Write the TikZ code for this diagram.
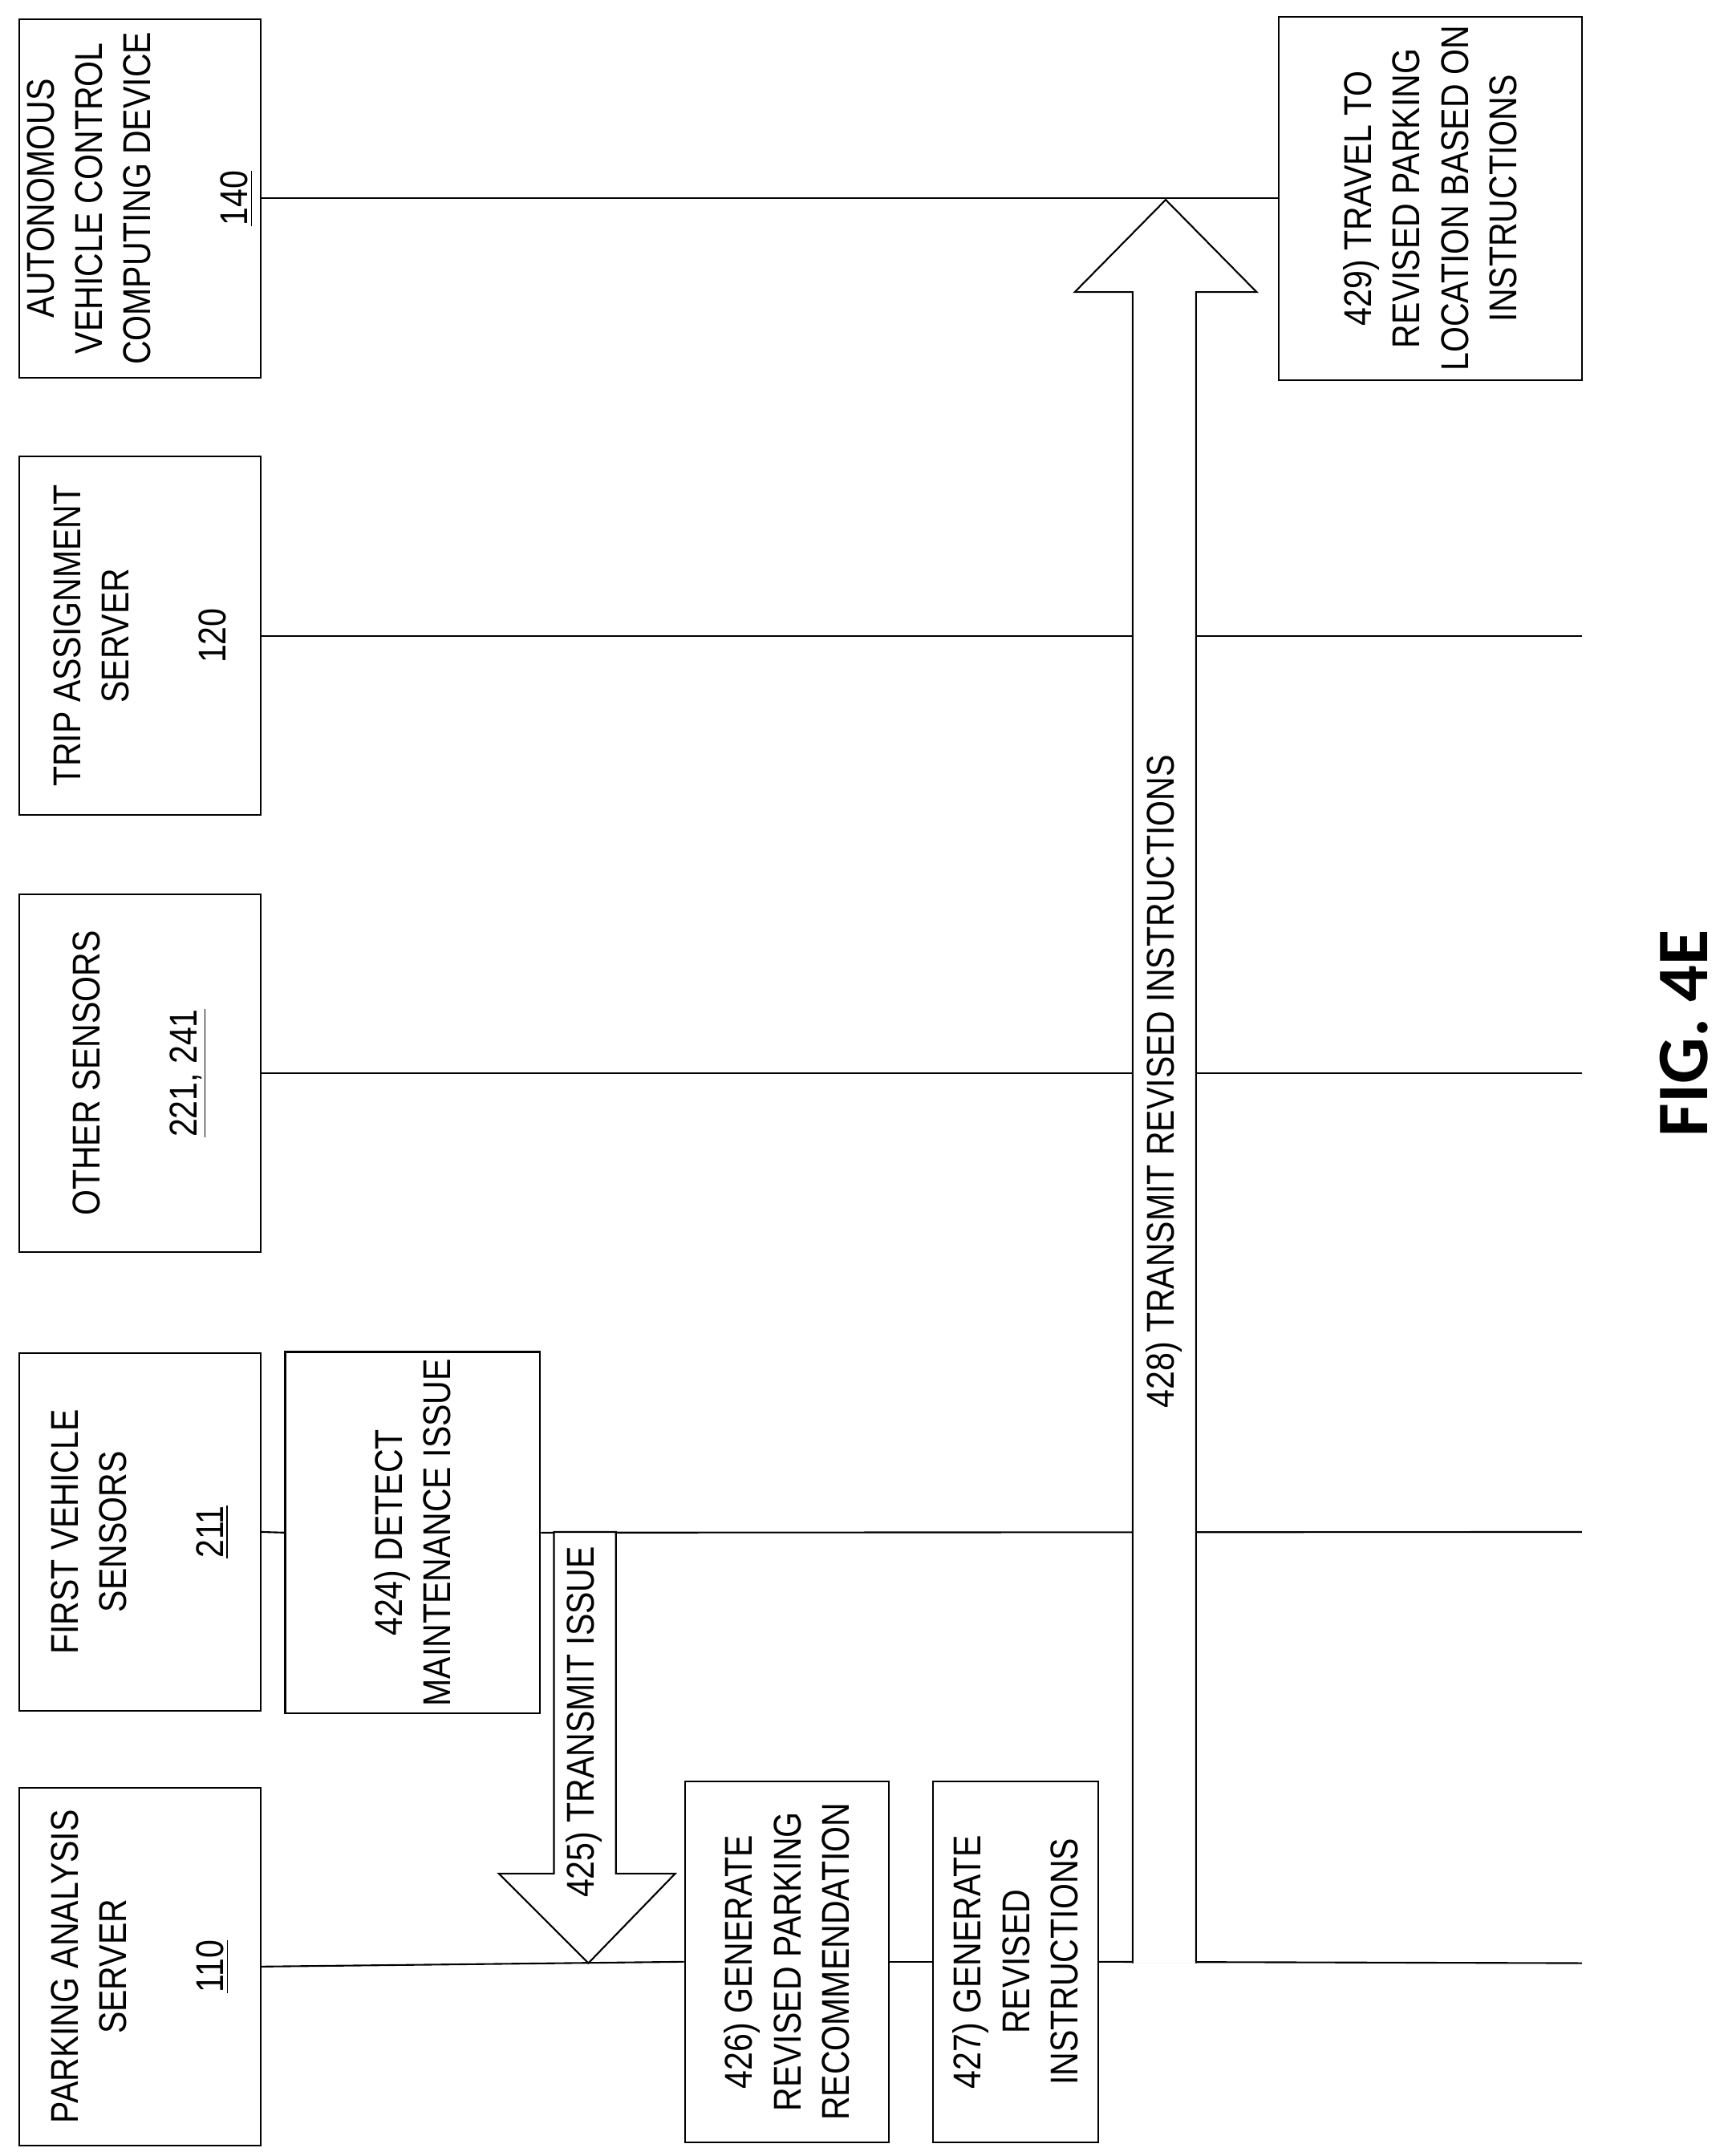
\documentclass[tikz,border=0pt]{standalone}
\usepackage{fontspec}
\setmainfont{Liberation Sans}[FakeStretch=0.85]
\newfontfamily\figfont{Carlito}
\usetikzlibrary{positioning, calc}
\tikzstyle{actor}=[rectangle, draw, rotate=90, align=center, minimum width=52mm, minimum height=35mm, inner sep=1mm]
\tikzstyle{stepbox}=[rectangle, draw, fill=white, rotate=90, align=center, inner sep=1mm]
\tikzstyle{life}=[line width=0.7pt]
\tikzstyle{fatarrow}=[draw, line width=0.7pt, fill=white]
\tikzstyle{msg}=[rotate=90]

\begin{document}
\begin{tikzpicture}[x=0.2mm, y=-0.2mm, line width=0.7pt, font=\fontsize{16}{20}\selectfont]
      \useasboundingbox (0,0) rectangle (1254,1565);
      % participants
      \node (pas) [actor] at (101.5,1427.5) {PARKING ANALYSIS\\SERVER\\[20pt]\underline{110}};
      \node (fvs) [actor] at (101.5,1112) {FIRST VEHICLE\\SENSORS\\[20pt]\underline{211}};
      \node (oth) [actor] at (101.5,779) {OTHER SENSORS\\[20pt]\underline{221, 241}};
      \node (tas) [actor] at (101.5,461.5) {TRIP ASSIGNMENT\\SERVER\\[20pt]120};
      \node (avc) [actor] at (101.5,144) {AUTONOMOUS\\VEHICLE CONTROL\\COMPUTING DEVICE\\[20pt]\underline{140}};
      % steps
      \node (detect) [stepbox, minimum width=52.2mm, minimum height=37mm] at (299.5,1112.5) {424) DETECT\\MAINTENANCE ISSUE};
      \node (genRec) [stepbox, minimum width=52.4mm, minimum height=29.6mm] at (571,1424) {426) GENERATE\\REVISED PARKING\\RECOMMENDATION};
      \node (genIns) [stepbox, minimum width=52.4mm, minimum height=24mm] at (737,1424) {427) GENERATE\\REVISED\\INSTRUCTIONS};
      \node (travel) [stepbox, minimum width=52.8mm, minimum height=44mm] at (1038,144) {429) TRAVEL TO\\REVISED PARKING\\LOCATION BASED ON\\INSTRUCTIONS};
      % lifelines
      \coordinate (pasEnd) at (1148,1425);
      \coordinate (fvsEnd) at (1148,1112);
      \coordinate (othEnd) at (1148,779);
      \coordinate (tasEnd) at (1148,461.5);
      \draw [life] (pas.south) -- (genRec.north);
      \draw [life] (genRec.south) -- (genIns.north);
      \draw [life] (genIns.south) -- (pasEnd);
      \draw [life] (fvs.south) -- (detect.north);
      \draw [life] (detect.south) -- (fvsEnd);
      \draw [life] (oth.south) -- (othEnd);
      \draw [life] (tas.south) -- (tasEnd);
      \draw [life] (avc.south) -- (travel.north);
      % 425) transmit issue
      \draw [fatarrow] (402,1112) -- (447,1112) -- (447,1360) -- (490,1360) -- (427,1425)
        -- (362,1360) -- (402,1360) -- cycle;
      \node (issue) [msg] at (424,1250) {425) TRANSMIT ISSUE};
      % 428) transmit revised instructions
      \draw [fatarrow] (822,1425) -- (822,212) -- (780,212) -- (846,145) -- (912,212)
        -- (868,212) -- (868,1425);
      \node (revised) [msg] at (845,785) {428) TRANSMIT REVISED INSTRUCTIONS};
      \node (fig) [rotate=90, font=\figfont\bfseries\fontsize{30}{30}\selectfont] at (1222,750) {FIG. 4E};
    \end{tikzpicture}
\end{document}
